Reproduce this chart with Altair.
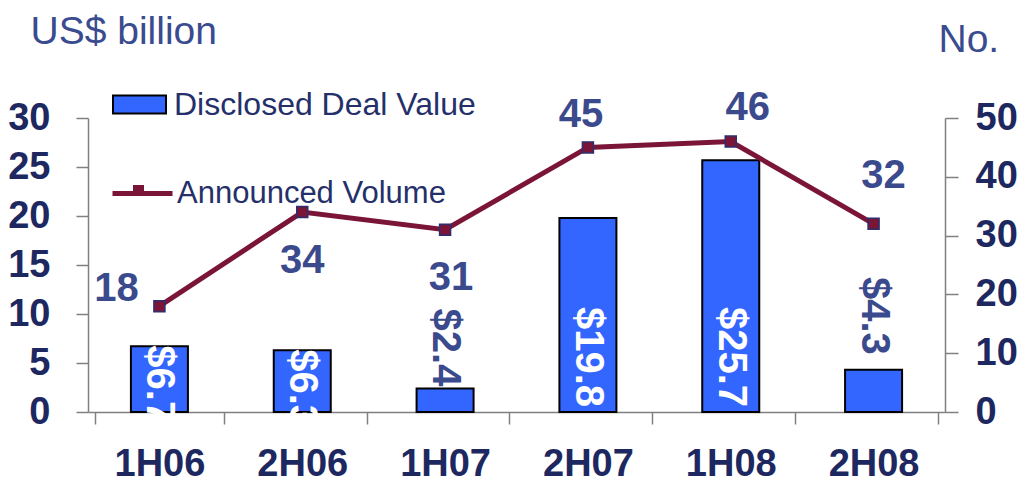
import altair as alt
import pandas as pd

periods = ["1H06", "2H06", "1H07", "2H07", "1H08", "2H08"]
deal_value = [6.7, 6.3, 2.4, 19.8, 25.7, 4.3]
volume = [18, 34, 31, 45, 46, 32]
left_ticks = [0, 5, 10, 15, 20, 25, 30]
right_ticks = [0, 10, 20, 30, 40, 50]
bar_series = "Disclosed Deal Value"
line_series = "Announced Volume"
marker_series = "marker"

df = pd.DataFrame({
    "period": periods,
    "deal": deal_value,
    "volume": volume,
    "deal_label": ["$" + f"{v:.1f}" for v in deal_value],
    "vol_label": [str(v) for v in volume],
    "bs": [bar_series] * len(periods),
    "ls": [line_series] * len(periods),
    "ps": [marker_series] * len(periods),
})
df["zero"] = 0.0

FONT = "Liberation Sans"
AXIS_COL = "#1E2860"
VAL_COL = "#3B4A8C"
TITLE_COL = "#3A4B8F"
LEG_COL = "#25306A"
GRAY = "#808080"
BLUE = "#3366FF"
MAROON = "#7A1538"
NAVY = "#2B2F6E"

x_enc = alt.X(
    "period:N", sort=periods, title=None,
    axis=alt.Axis(
        labelFont=FONT, labelFontSize=38, labelFontWeight="bold", labelColor=AXIS_COL,
        labelPadding=21, labelAngle=0, tickBand="extent", tickSize=12, tickColor=GRAY,
        tickWidth=1.5, domainColor=GRAY, domainWidth=1.5, grid=False,
    ),
)

left_scale = alt.Scale(domain=[0, 30], nice=False, zero=True)
right_scale = alt.Scale(domain=[0, 50], nice=False, zero=True)

left_axis = alt.Axis(
    orient="left", values=left_ticks, grid=False,
    title="US$ billion", titleAngle=0, titleAlign="left", titleBaseline="alphabetic",
    titleX=-58, titleY=-75, titleFont=FONT, titleFontSize=39, titleFontWeight="normal",
    titleColor=TITLE_COL,
    labelFont=FONT, labelFontSize=38, labelFontWeight="bold", labelColor=AXIS_COL,
    labelPadding=26, tickSize=12, tickColor=GRAY, tickWidth=1.5,
    domainColor=GRAY, domainWidth=1.5,
)
right_axis = alt.Axis(
    orient="right", values=right_ticks, grid=False,
    title="No.", titleAngle=0, titleAlign="left", titleBaseline="alphabetic",
    titleX=-7, titleY=-67, titleFont=FONT, titleFontSize=39, titleFontWeight="normal",
    titleColor=TITLE_COL,
    labelFont=FONT, labelFontSize=38, labelFontWeight="bold", labelColor=AXIS_COL,
    labelPadding=17, tickSize=13, tickColor=GRAY, tickWidth=1.5,
    domainColor=GRAY, domainWidth=1.5,
)

base = alt.Chart(df)

bars = base.mark_bar(size=57, stroke="black", strokeWidth=2).encode(
    x=x_enc,
    y=alt.Y("deal:Q", scale=left_scale, axis=left_axis),
    fill=alt.Fill(
        "bs:N", scale=alt.Scale(domain=[bar_series], range=[BLUE]),
        legend=alt.Legend(
            title=None, orient="none", legendX=24, legendY=-41, padding=0,
            symbolType="M-1,-0.34H1V0.34H-1Z", symbolSize=2809,
            symbolStrokeColor="black", symbolStrokeWidth=2, symbolFillColor=BLUE,
            labelFont=FONT, labelFontSize=32, labelColor=LEG_COL, labelOffset=7,
            labelLimit=500,
        ),
    ),
)

# per-bar label styles: (y field, align, dx, color)
bar_label_styles = {
    "1H06": ("deal", "left", -1, "white"),
    "2H06": ("deal", "left", -1, "white"),
    "1H07": ("deal", "right", -2, VAL_COL),
    "2H07": ("zero", "right", -5, "white"),
    "1H08": ("zero", "right", -5, "white"),
    "2H08": ("deal", "right", -15, VAL_COL),
}
bar_label_layers = []
for p in periods:
    yf, al, dx, col = bar_label_styles[p]
    bar_label_layers.append(
        base.transform_filter(alt.datum.period == p).mark_text(
            angle=90, align=al, baseline="middle", dx=dx, color=col,
            font=FONT, fontSize=40, fontWeight="bold",
        ).encode(
            x=x_enc,
            y=alt.Y(f"{yf}:Q", scale=left_scale, axis=left_axis),
            text="deal_label:N",
        )
    )

left = alt.layer(bars, *bar_label_layers)

line = base.mark_line(strokeWidth=5).encode(
    x=x_enc,
    y=alt.Y("volume:Q", scale=right_scale, axis=right_axis),
    stroke=alt.Stroke(
        "ls:N", scale=alt.Scale(domain=[line_series], range=[MAROON]),
        legend=alt.Legend(
            title=None, orient="none", legendX=22, legendY=43, padding=0,
            symbolType="stroke", symbolSize=3600, symbolStrokeWidth=5,
            symbolStrokeColor=MAROON,
            labelFont=FONT, labelFontSize=31, labelColor=LEG_COL, labelOffset=2,
            labelLimit=500,
        ),
    ),
)

points = base.mark_point(filled=True, fill=MAROON, stroke=NAVY, strokeWidth=1.5,
                         size=121, opacity=1).encode(
    x=x_enc,
    y=alt.Y("volume:Q", scale=right_scale, axis=right_axis),
    shape=alt.Shape(
        "ps:N", scale=alt.Scale(domain=[marker_series], range=["square"]),
        legend=alt.Legend(
            title=None, orient="none", legendX=35, legendY=57, padding=0,
            symbolSize=121, symbolFillColor=MAROON, symbolStrokeColor=NAVY,
            symbolStrokeWidth=1.5, labelExpr="''", labelFontSize=31,
        ),
    ),
)

# per-point label offsets (dx, dy) in pixels
line_label_offsets = {
    "1H06": (-43, -17),
    "2H06": (0, 49),
    "1H07": (6, 48),
    "2H07": (-7, -32),
    "1H08": (17, -34),
    "2H08": (10, -48),
}
line_label_layers = []
for p in periods:
    dx, dy = line_label_offsets[p]
    line_label_layers.append(
        base.transform_filter(alt.datum.period == p).mark_text(
            align="center", baseline="middle", dx=dx, dy=dy, color=VAL_COL,
            font=FONT, fontSize=40, fontWeight="bold",
        ).encode(
            x=x_enc,
            y=alt.Y("volume:Q", scale=right_scale, axis=right_axis),
            text="vol_label:N",
        )
    )

right = alt.layer(line, points, *line_label_layers)

chart = alt.layer(left, right).resolve_scale(
    y="independent", fill="independent", stroke="independent", shape="independent"
).properties(
    width=857, height=294,
    autosize=alt.AutoSizeParams(type="none"),
    padding={"left": 80, "top": 110, "right": 72, "bottom": 65},
    background="white",
).configure_view(stroke=None)

chart.save("out.html", embed_options={"renderer": "svg", "actions": False})
